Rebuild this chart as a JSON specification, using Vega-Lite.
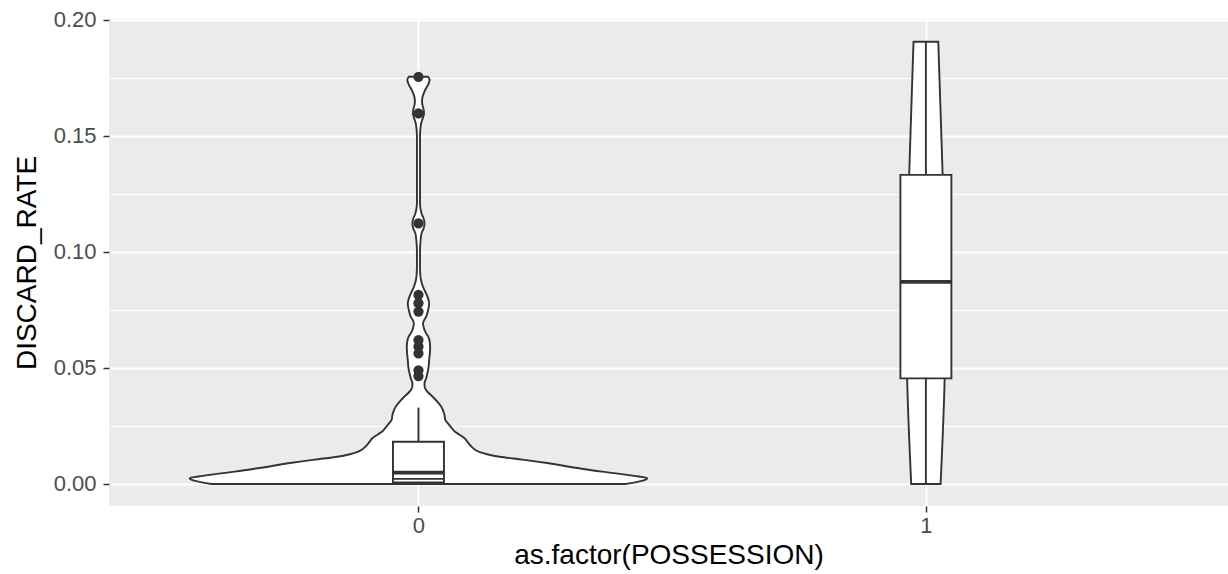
{
  "$schema": "https://vega.github.io/schema/vega-lite/v6.json",
  "width": 1119,
  "height": 487,
  "autosize": {"type": "none"},
  "padding": {"left": 109, "top": 19, "right": 0, "bottom": 68},
  "background": "white",
  "config": {
    "view": {"fill": "#EBEBEB", "stroke": null},
    "font": "Liberation Sans",
    "axis": {"labelFont": "Liberation Sans", "titleFont": "Liberation Sans", "titleFontWeight": "normal"}
  },
  "data": {
    "values": [
      {"kind": "violin", "cat": 0, "y": 0.0, "x": -0.408, "x2": 0.408},
      {"kind": "violin", "cat": 0, "y": 0.0012, "x": -0.438, "x2": 0.438},
      {"kind": "violin", "cat": 0, "y": 0.00245, "x": -0.451, "x2": 0.451},
      {"kind": "violin", "cat": 0, "y": 0.0035, "x": -0.425, "x2": 0.425},
      {"kind": "violin", "cat": 0, "y": 0.0053, "x": -0.362, "x2": 0.362},
      {"kind": "violin", "cat": 0, "y": 0.007, "x": -0.31, "x2": 0.31},
      {"kind": "violin", "cat": 0, "y": 0.0089, "x": -0.257, "x2": 0.257},
      {"kind": "violin", "cat": 0, "y": 0.0105, "x": -0.205, "x2": 0.205},
      {"kind": "violin", "cat": 0, "y": 0.0117, "x": -0.16, "x2": 0.16},
      {"kind": "violin", "cat": 0, "y": 0.0128, "x": -0.135, "x2": 0.135},
      {"kind": "violin", "cat": 0, "y": 0.0137, "x": -0.121, "x2": 0.121},
      {"kind": "violin", "cat": 0, "y": 0.015, "x": -0.11, "x2": 0.11},
      {"kind": "violin", "cat": 0, "y": 0.016, "x": -0.105, "x2": 0.105},
      {"kind": "violin", "cat": 0, "y": 0.018, "x": -0.097, "x2": 0.097},
      {"kind": "violin", "cat": 0, "y": 0.0197, "x": -0.091, "x2": 0.091},
      {"kind": "violin", "cat": 0, "y": 0.0212, "x": -0.081, "x2": 0.081},
      {"kind": "violin", "cat": 0, "y": 0.0225, "x": -0.072, "x2": 0.072},
      {"kind": "violin", "cat": 0, "y": 0.0245, "x": -0.064, "x2": 0.064},
      {"kind": "violin", "cat": 0, "y": 0.0261, "x": -0.058, "x2": 0.058},
      {"kind": "violin", "cat": 0, "y": 0.0276, "x": -0.053, "x2": 0.053},
      {"kind": "violin", "cat": 0, "y": 0.03, "x": -0.051, "x2": 0.051},
      {"kind": "violin", "cat": 0, "y": 0.0333, "x": -0.045, "x2": 0.045},
      {"kind": "violin", "cat": 0, "y": 0.0355, "x": -0.037, "x2": 0.037},
      {"kind": "violin", "cat": 0, "y": 0.0376, "x": -0.028, "x2": 0.028},
      {"kind": "violin", "cat": 0, "y": 0.0392, "x": -0.02, "x2": 0.02},
      {"kind": "violin", "cat": 0, "y": 0.0405, "x": -0.015, "x2": 0.015},
      {"kind": "violin", "cat": 0, "y": 0.042, "x": -0.012, "x2": 0.012},
      {"kind": "violin", "cat": 0, "y": 0.0434, "x": -0.012, "x2": 0.012},
      {"kind": "violin", "cat": 0, "y": 0.0455, "x": -0.015, "x2": 0.015},
      {"kind": "violin", "cat": 0, "y": 0.0477, "x": -0.0176, "x2": 0.0176},
      {"kind": "violin", "cat": 0, "y": 0.0505, "x": -0.02, "x2": 0.02},
      {"kind": "violin", "cat": 0, "y": 0.0534, "x": -0.021, "x2": 0.021},
      {"kind": "violin", "cat": 0, "y": 0.0565, "x": -0.0225, "x2": 0.0225},
      {"kind": "violin", "cat": 0, "y": 0.0591, "x": -0.023, "x2": 0.023},
      {"kind": "violin", "cat": 0, "y": 0.0615, "x": -0.022, "x2": 0.022},
      {"kind": "violin", "cat": 0, "y": 0.0634, "x": -0.0195, "x2": 0.0195},
      {"kind": "violin", "cat": 0, "y": 0.065, "x": -0.015, "x2": 0.015},
      {"kind": "violin", "cat": 0, "y": 0.0663, "x": -0.012, "x2": 0.012},
      {"kind": "violin", "cat": 0, "y": 0.0678, "x": -0.01, "x2": 0.01},
      {"kind": "violin", "cat": 0, "y": 0.0692, "x": -0.009, "x2": 0.009},
      {"kind": "violin", "cat": 0, "y": 0.0705, "x": -0.011, "x2": 0.011},
      {"kind": "violin", "cat": 0, "y": 0.072, "x": -0.015, "x2": 0.015},
      {"kind": "violin", "cat": 0, "y": 0.075, "x": -0.019, "x2": 0.019},
      {"kind": "violin", "cat": 0, "y": 0.0778, "x": -0.021, "x2": 0.021},
      {"kind": "violin", "cat": 0, "y": 0.08, "x": -0.019, "x2": 0.019},
      {"kind": "violin", "cat": 0, "y": 0.0821, "x": -0.015, "x2": 0.015},
      {"kind": "violin", "cat": 0, "y": 0.085, "x": -0.009, "x2": 0.009},
      {"kind": "violin", "cat": 0, "y": 0.0879, "x": -0.005, "x2": 0.005},
      {"kind": "violin", "cat": 0, "y": 0.0905, "x": -0.0035, "x2": 0.0035},
      {"kind": "violin", "cat": 0, "y": 0.0936, "x": -0.003, "x2": 0.003},
      {"kind": "violin", "cat": 0, "y": 0.1008, "x": -0.003, "x2": 0.003},
      {"kind": "violin", "cat": 0, "y": 0.1045, "x": -0.004, "x2": 0.004},
      {"kind": "violin", "cat": 0, "y": 0.108, "x": -0.006, "x2": 0.006},
      {"kind": "violin", "cat": 0, "y": 0.11, "x": -0.01, "x2": 0.01},
      {"kind": "violin", "cat": 0, "y": 0.1123, "x": -0.012, "x2": 0.012},
      {"kind": "violin", "cat": 0, "y": 0.1145, "x": -0.01, "x2": 0.01},
      {"kind": "violin", "cat": 0, "y": 0.1166, "x": -0.006, "x2": 0.006},
      {"kind": "violin", "cat": 0, "y": 0.121, "x": -0.003, "x2": 0.003},
      {"kind": "violin", "cat": 0, "y": 0.1323, "x": -0.003, "x2": 0.003},
      {"kind": "violin", "cat": 0, "y": 0.1497, "x": -0.003, "x2": 0.003},
      {"kind": "violin", "cat": 0, "y": 0.1535, "x": -0.004, "x2": 0.004},
      {"kind": "violin", "cat": 0, "y": 0.156, "x": -0.006, "x2": 0.006},
      {"kind": "violin", "cat": 0, "y": 0.158, "x": -0.009, "x2": 0.009},
      {"kind": "violin", "cat": 0, "y": 0.1597, "x": -0.011, "x2": 0.011},
      {"kind": "violin", "cat": 0, "y": 0.1615, "x": -0.01, "x2": 0.01},
      {"kind": "violin", "cat": 0, "y": 0.1632, "x": -0.008, "x2": 0.008},
      {"kind": "violin", "cat": 0, "y": 0.165, "x": -0.007, "x2": 0.007},
      {"kind": "violin", "cat": 0, "y": 0.1668, "x": -0.008, "x2": 0.008},
      {"kind": "violin", "cat": 0, "y": 0.1697, "x": -0.013, "x2": 0.013},
      {"kind": "violin", "cat": 0, "y": 0.1726, "x": -0.02, "x2": 0.02},
      {"kind": "violin", "cat": 0, "y": 0.1742, "x": -0.022, "x2": 0.022},
      {"kind": "violin", "cat": 0, "y": 0.1755, "x": -0.019, "x2": 0.019},
      {"kind": "violin", "cat": 1, "y": 0.0, "x": 0.971, "x2": 1.029},
      {"kind": "violin", "cat": 1, "y": 0.02, "x": 0.967, "x2": 1.033},
      {"kind": "violin", "cat": 1, "y": 0.046, "x": 0.963, "x2": 1.037},
      {"kind": "violin", "cat": 1, "y": 0.09, "x": 0.961, "x2": 1.039},
      {"kind": "violin", "cat": 1, "y": 0.133, "x": 0.967, "x2": 1.033},
      {"kind": "violin", "cat": 1, "y": 0.16, "x": 0.971, "x2": 1.029},
      {"kind": "violin", "cat": 1, "y": 0.1906, "x": 0.9756, "x2": 1.0244},
      {"kind": "whisker", "cat": 0, "x": 0, "y": 0.0, "y2": 0.0329},
      {"kind": "whisker", "cat": 1, "x": 1, "y": 0.0, "y2": 0.1906},
      {"kind": "box", "cat": 0, "x": 0, "y": 0.0006, "y2": 0.0182},
      {"kind": "box", "cat": 1, "x": 1, "y": 0.0455, "y2": 0.1332},
      {"kind": "median", "cat": 0, "x": 0, "y": 0.0049},
      {"kind": "median", "cat": 1, "x": 1, "y": 0.0871},
      {"kind": "hinge", "cat": 0, "x": 0, "y": 0.0022},
      {"kind": "outlier", "cat": 0, "x": 0, "y": 0.1755},
      {"kind": "outlier", "cat": 0, "x": 0, "y": 0.1597},
      {"kind": "outlier", "cat": 0, "x": 0, "y": 0.1123},
      {"kind": "outlier", "cat": 0, "x": 0, "y": 0.0815},
      {"kind": "outlier", "cat": 0, "x": 0, "y": 0.0779},
      {"kind": "outlier", "cat": 0, "x": 0, "y": 0.0743},
      {"kind": "outlier", "cat": 0, "x": 0, "y": 0.062},
      {"kind": "outlier", "cat": 0, "x": 0, "y": 0.0592},
      {"kind": "outlier", "cat": 0, "x": 0, "y": 0.0563},
      {"kind": "outlier", "cat": 0, "x": 0, "y": 0.049},
      {"kind": "outlier", "cat": 0, "x": 0, "y": 0.0465}
    ]
  },
  "encoding": {
    "x": {
      "field": "x", "type": "quantitative",
      "scale": {"domain": [-0.6, 1.5855], "nice": false, "zero": false},
      "title": "as.factor(POSSESSION)",
      "axis": {
        "values": [0, 1], "format": "d",
        "domain": false,
        "grid": true, "gridColor": "#FFFFFF", "gridWidth": 2,
        "ticks": true, "tickColor": "#333333", "tickSize": 6, "tickWidth": 1.5,
        "labelColor": "#4D4D4D", "labelFontSize": 22, "labelPadding": 3,
        "titleColor": "#000000", "titleFontSize": 28, "titlePadding": 5
      }
    },
    "y": {
      "field": "y", "type": "quantitative",
      "scale": {"domain": [-0.0095, 0.2004], "nice": false, "zero": false},
      "title": "DISCARD_RATE",
      "axis": {
        "values": [0, 0.025, 0.05, 0.075, 0.1, 0.125, 0.15, 0.175, 0.2],
        "labelExpr": "round(datum.value*1000) % 50 == 0 ? format(datum.value, '.2f') : ''",
        "domain": false,
        "grid": true, "gridColor": "#FFFFFF",
        "gridWidth": {"condition": {"test": "round(datum.value*1000) % 50 != 0", "value": 1}, "value": 2},
        "ticks": true, "tickColor": "#333333", "tickSize": 6, "tickWidth": 1.5,
        "tickOpacity": {"condition": {"test": "round(datum.value*1000) % 50 != 0", "value": 0}, "value": 1},
        "labelColor": "#4D4D4D", "labelFontSize": 22, "labelPadding": 7,
        "titleColor": "#000000", "titleFontSize": 28, "titlePadding": 12
      }
    }
  },
  "layer": [
    {
      "transform": [{"filter": "datum.kind == 'violin'"}],
      "mark": {"type": "area", "orient": "horizontal", "fill": "#FFFFFF", "stroke": "#333333", "strokeWidth": 1.9, "interpolate": "monotone"},
      "encoding": {
        "x2": {"field": "x2"},
        "detail": {"field": "cat", "type": "nominal"}
      }
    },
    {
      "transform": [{"filter": "datum.kind == 'whisker'"}],
      "mark": {"type": "rule", "color": "#333333", "strokeWidth": 1.9},
      "encoding": {"y2": {"field": "y2"}}
    },
    {
      "transform": [{"filter": "datum.kind == 'box'"}],
      "mark": {"type": "bar", "size": 51, "fill": "#FFFFFF", "stroke": "#333333", "strokeWidth": 1.9},
      "encoding": {"y2": {"field": "y2"}}
    },
    {
      "transform": [{"filter": "datum.kind == 'median'"}],
      "mark": {"type": "tick", "orient": "horizontal", "size": 51, "thickness": 3.6, "color": "#333333", "opacity": 1}
    },
    {
      "transform": [{"filter": "datum.kind == 'hinge'"}],
      "mark": {"type": "tick", "orient": "horizontal", "size": 51, "thickness": 1.6, "color": "#333333", "opacity": 1}
    },
    {
      "transform": [{"filter": "datum.kind == 'outlier'"}],
      "mark": {"type": "circle", "size": 105, "color": "#333333", "opacity": 1}
    }
  ]
}
